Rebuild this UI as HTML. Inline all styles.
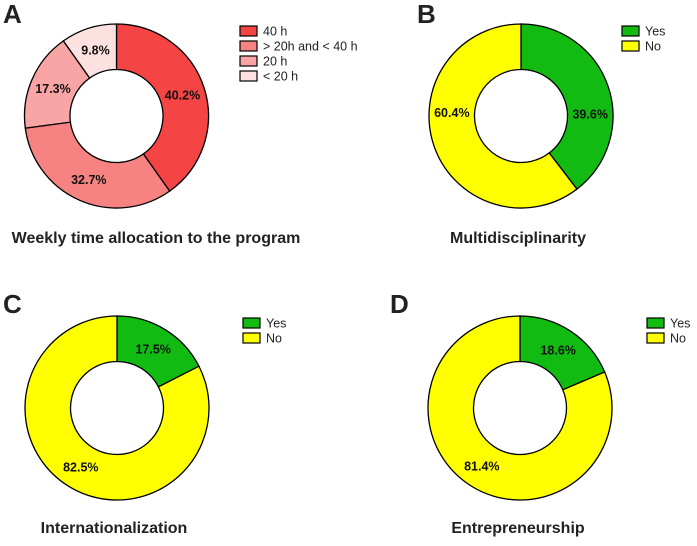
<!DOCTYPE html>
<html><head><meta charset="utf-8"><style>
body{margin:0;background:#fff;width:697px;height:541px;overflow:hidden}
svg{font-family:"Liberation Sans",Arial,sans-serif}
</style></head><body>
<svg id="s" width="697" height="541" xmlns="http://www.w3.org/2000/svg"></svg>
<script>
const panelALabels=["40 h","> 20h and < 40 h","20 h","< 20 h"];
const panelAValues=[40.2,32.7,17.3,9.8];
const panelBValues=[39.6,60.4];
const panelCValues=[17.5,82.5];
const panelDValues=[18.6,81.4];
const yesNoLabels=["Yes","No"];
const titles=["Weekly time allocation to the program","Multidisciplinarity","Internationalization","Entrepreneurship"];
const redCols=["#f44444","#f78282","#f9a5a5","#fde0e0"];
const ynCols=["#11bb11","#ffff00"];
const svg=document.getElementById('s');
const NS="http://www.w3.org/2000/svg";
function mk(t,a,p){const e=document.createElementNS(NS,t);for(const k in a)e.setAttribute(k,a[k]);(p||svg).appendChild(e);return e;}
function pt(cx,cy,r,a){return [cx+r*Math.sin(a),cy-r*Math.cos(a)];}
function donut(cx,cy,R,r,vals,cols,id,angShift){
  const g=mk('g',{});
  
  
  const tot=vals.reduce((a,b)=>a+b,0);let a0=0;
  vals.forEach((v,i)=>{
    const a1=a0+v/tot*2*Math.PI;const lg=(a1-a0)>Math.PI?1:0;
    const p1=pt(cx,cy,R,a0),p2=pt(cx,cy,R,a1),p3=pt(cx,cy,r,a1),p4=pt(cx,cy,r,a0);
    const p=mk('path',{d:`M${p1}A${R},${R} 0 ${lg} 1 ${p2}L${p3}A${r},${r} 0 ${lg} 0 ${p4}Z`,fill:cols[i],stroke:'#000','stroke-width':1.3},g);
    
    
    const sh=angShift?angShift[i]:0;
    const m=pt(cx,cy,(R+r)/2,(a0+a1)/2+sh);
    const t=mk('text',{x:m[0],y:m[1]+4.5,'text-anchor':'middle','font-size':12.5,'font-weight':'bold',fill:'#111'},g);
    t.textContent=v.toFixed(1)+'%';
    
    
    a0=a1;
  });
}
function legend(x,y,labels,cols,id){
  labels.forEach((l,i)=>{
    const r=mk('rect',{x:x,y:y+i*15-5,width:17,height:10,fill:cols[i],stroke:'#000','stroke-width':1.2});
    
    
    const t=mk('text',{x:x+23,y:y+i*15+4.5,'font-size':12.5,fill:'#222'});
    t.textContent=l;
    
    
  });
}
function text(x,y,s,size,anchor,name){
  const t=mk('text',{x:x,y:y,'font-size':size,'font-weight':'bold','text-anchor':anchor,fill:'#222'});
  t.textContent=s;
  
  
}
text(3,23,'A',26,'start','panel-a-letter');
text(417,23,'B',26,'start','panel-b-letter');
text(3,313,'C',26,'start','panel-c-letter');
text(390,313,'D',26,'start','panel-d-letter');
donut(116.5,116,92,46.5,panelAValues,redCols,'a');
donut(521,116,92,46.5,panelBValues,ynCols,'b',[0.3,0.38]);
donut(117,408,92,46.5,panelCValues,ynCols,'c');
donut(520,408,92,46.5,panelDValues,ynCols,'d');
legend(240,31,panelALabels,redCols,'a');
legend(622,31,yesNoLabels,ynCols,'b');
legend(243,323,yesNoLabels,ynCols,'c');
legend(647,323,yesNoLabels,ynCols,'d');
text(156,243,titles[0],16,'middle','panel-a-title');
text(518,243,titles[1],16,'middle','panel-b-title');
text(114,533,titles[2],16,'middle','panel-c-title');
text(518,533,titles[3],16,'middle','panel-d-title');
</script>
</body></html>
